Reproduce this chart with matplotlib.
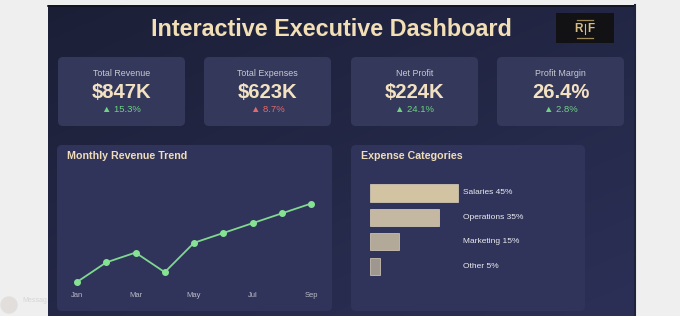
import matplotlib
matplotlib.use("Agg")
import matplotlib.pyplot as plt
import numpy as np
from matplotlib.patches import FancyBboxPatch, Rectangle, Circle

plt.rcParams['font.family'] = ['Liberation Sans', 'DejaVu Sans']

# data
kpi_labels = ["Total Revenue", "Total Expenses", "Net Profit", "Profit Margin"]
kpi_values = ["$847K", "$623K", "$224K", "26.4%"]
kpi_changes = ["▲ 15.3%", "▲ 8.7%", "▲ 24.1%", "▲ 2.8%"]
kpi_good = [True, False, True, True]

months = ["Jan", "Feb", "Mar", "Apr", "May", "Jun", "Jul", "Aug", "Sep"]
revenue = [82, 90, 94, 86, 98, 102, 106, 110, 114]

exp_cats = ["Salaries", "Operations", "Marketing", "Other"]
exp_pct = [45, 35, 15, 5]
exp_colors = ["#d2c3a3", "#c4b8a2", "#b3a999", "#9d978f"]

W, H = 680, 316
fig = plt.figure(figsize=(W / 100, H / 100), dpi=100)
fig.patch.set_facecolor("#efefef")

# background layer in pixel coords
bg = fig.add_axes([0, 0, 1, 1])
bg.set_xlim(0, W)
bg.set_ylim(H, 0)
bg.axis("off")

# faint page stuff on the left
bg.add_patch(Circle((9, 305), 8, color="#e2dedb", zorder=1))
bg.text(22, 300, "Messag", fontsize=5, color="#d6d6d6", va="center", zorder=1)

# dark panel with gradient
grad = np.linspace(0, 1, 256)
gx, gy = np.meshgrid(grad, grad)
g = 0.55 * gy + 0.45 * gx
c0 = np.array([0x1b, 0x1f, 0x36]) / 255
c1 = np.array([0x2c, 0x30, 0x57]) / 255
img = c0[None, None, :] * (1 - g[..., None]) + c1[None, None, :] * g[..., None]
panel = Rectangle((48, 5), 587, 320, facecolor="none", edgecolor="none")
bg.add_patch(panel)
im = bg.imshow(img, extent=(48, 635, 316, 5), aspect="auto", zorder=1)
im.set_clip_path(panel)
bg.plot([48, 635], [5.5, 5.5], color="#111320", lw=1.2, zorder=2)
bg.plot([634.5, 634.5], [5, 316], color="#20233c", lw=1.5, zorder=2)
bg.set_xlim(0, W)
bg.set_ylim(H, 0)

# title
bg.text(331, 29, "Interactive Executive Dashboard", fontsize=16.8, fontweight="bold",
        color="#f2dfb6", ha="center", va="center", zorder=3)

# logo
bg.add_patch(Rectangle((556, 13), 58, 30, facecolor="#121214", edgecolor="none", zorder=3))
bg.text(582.5, 28.5, "R", fontsize=8.5, fontweight="bold", color="#d8bd82",
        ha="right", va="center", zorder=4)
bg.text(587.5, 28.5, "F", fontsize=8.5, fontweight="bold", color="#d8bd82",
        ha="left", va="center", zorder=4)
bg.plot([585, 585], [23.5, 33.5], color="#d8bd82", lw=0.8, zorder=4)
for yy in (19.5, 37.5):
    bg.plot([577, 593], [yy, yy], color="#a58d5b", lw=0.9, zorder=4)

# KPI cards
card_x = [58, 204, 351, 497]
for i in range(4):
    x0 = card_x[i]
    bg.add_patch(FancyBboxPatch((x0, 57), 127, 69, boxstyle="round,pad=0,rounding_size=5",
                                facecolor="#34385b", edgecolor="none", zorder=3))
    cx = x0 + 63.5
    bg.text(cx, 74, kpi_labels[i], fontsize=6.4, color="#c9cad3", ha="center", va="center", zorder=4)
    bg.text(cx, 92.5, kpi_values[i], fontsize=14.6, fontweight="bold", color="#f3e2c2",
            ha="center", va="center", zorder=4)
    bg.text(cx, 110, kpi_changes[i], fontsize=6.8, color="#6fd284" if kpi_good[i] else "#e26a6e",
            ha="center", va="center", zorder=4)

# chart cards
for x0, w, title in [(57, 275, "Monthly Revenue Trend"), (351, 234, "Expense Categories")]:
    bg.add_patch(FancyBboxPatch((x0, 145), w, 166, boxstyle="round,pad=0,rounding_size=5",
                                facecolor="#30345a", edgecolor="none", zorder=3))
    bg.text(x0 + 10, 156, title, fontsize=7.7, fontweight="bold", color="#f0dcb8",
            ha="left", va="center", zorder=4)


def px_axes(x0, y_top, x1, y_bot):
    return fig.add_axes([x0 / W, (H - y_bot) / H, (x1 - x0) / W, (y_bot - y_top) / H])


# line chart
ax = px_axes(77, 203.6, 311, 282)
ax.patch.set_alpha(0)
xs = np.arange(len(months))
ax.plot(xs, revenue, color="#7fd88f", lw=1.3, marker="o", ms=4, mfc="#86e393",
        mec="#86e393", clip_on=False, zorder=5)
ax.set_xlim(0, len(months) - 1)
ax.set_ylim(82, 114)
ax.set_xticks(xs[::2])
ax.set_xticklabels(months[::2], fontsize=5.5, color="#b9bac6")
ax.tick_params(axis="x", length=0, pad=7.5)
ax.set_yticks([])
for s in ax.spines.values():
    s.set_visible(False)

# bar chart
bx = px_axes(370, 180.8, 468, 278.4)
bx.patch.set_alpha(0)
ys = np.arange(len(exp_cats))
bx.barh(ys, exp_pct, height=0.7, color=exp_colors, edgecolor="#ddd2ba", linewidth=0.5)
bx.set_xlim(0, 50)
bx.set_ylim(3.5, -0.5)
for i in range(len(exp_cats)):
    bx.text(47.4, ys[i], f"{exp_cats[i]} {exp_pct[i]}%", fontsize=6, fontweight="normal",
            color="#ececf0", va="center", ha="left", clip_on=False)
bx.axis("off")

fig.savefig("out.png", dpi=100, facecolor=fig.get_facecolor())
